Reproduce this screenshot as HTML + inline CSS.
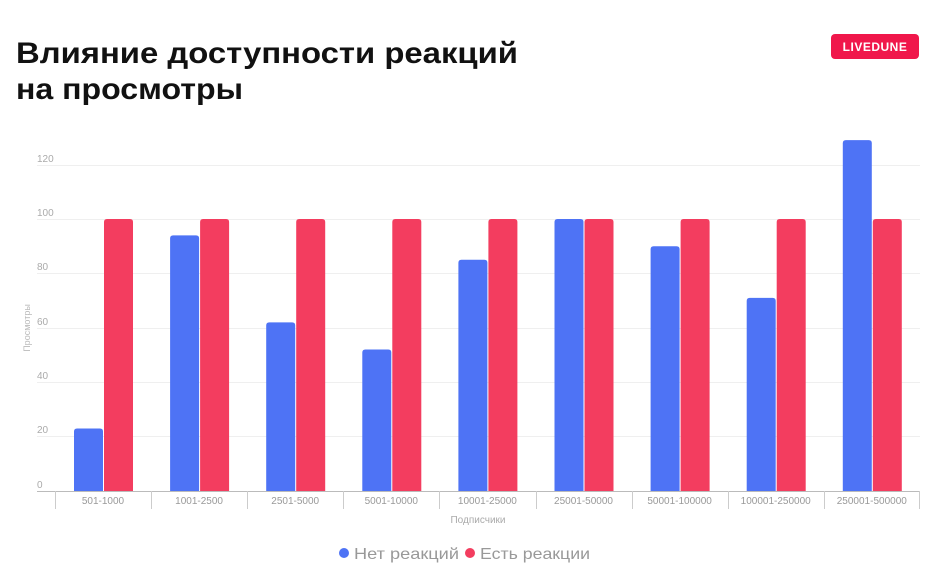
<!DOCTYPE html>
<html><head><meta charset="utf-8"><style>
body{margin:0;width:936px;height:572px;background:#fff;overflow:hidden;font-family:"Liberation Sans",sans-serif}
</style></head><body>
<svg width="936" height="572" xmlns="http://www.w3.org/2000/svg" font-family="Liberation Sans, sans-serif">
<text x="16" y="63" font-size="30" font-weight="bold" fill="#111" textLength="502" lengthAdjust="spacingAndGlyphs">Влияние доступности реакций</text>
<text x="16" y="99" font-size="30" font-weight="bold" fill="#111" textLength="227" lengthAdjust="spacingAndGlyphs">на просмотры</text>
<rect x="831" y="34" width="88" height="25" rx="4" fill="#f0174b"/>
<text x="875" y="51" font-size="12" font-weight="bold" fill="#fff" text-anchor="middle" letter-spacing="0.5">LIVEDUNE</text>
<g stroke="#efefef" stroke-width="1">
<line x1="37" x2="920" y1="165.5" y2="165.5"/><line x1="37" x2="920" y1="219.5" y2="219.5"/>
<line x1="37" x2="920" y1="273.5" y2="273.5"/><line x1="37" x2="920" y1="328.5" y2="328.5"/>
<line x1="37" x2="920" y1="382.5" y2="382.5"/><line x1="37" x2="920" y1="436.5" y2="436.5"/>
</g>
<g font-size="10" fill="#aaa">
<text x="37" y="162">120</text><text x="37" y="216">100</text><text x="37" y="270">80</text>
<text x="37" y="325">60</text><text x="37" y="379">40</text><text x="37" y="433">20</text><text x="37" y="488">0</text>
</g>
<text transform="translate(30,328) rotate(-90)" font-size="9" fill="#bbb" text-anchor="middle">Просмотры</text>
<g id="bars"></g>
<line x1="37" x2="920" y1="491.5" y2="491.5" stroke="#bbb"/>
<g id="ticks" stroke="#ccc"></g>
<g id="labels" font-size="10" fill="#999" text-anchor="middle"></g>
<text x="478" y="523" font-size="10" fill="#aaa" text-anchor="middle">Подписчики</text>
<circle cx="344" cy="553" r="5" fill="#4e73f5"/>
<text x="354" y="559" font-size="16" fill="#999" textLength="105" lengthAdjust="spacingAndGlyphs">Нет реакций</text>
<circle cx="470" cy="553" r="5" fill="#f33d5f"/>
<text x="480" y="559" font-size="16" fill="#999" textLength="110" lengthAdjust="spacingAndGlyphs">Есть реакции</text>
</svg>
<script>
var v=[23,94,62,52,85,100,90,71,129],l=["501-1000","1001-2500","2501-5000","5001-10000","10001-25000","25001-50000","50001-100000","100001-250000","250001-500000"];
var ns="http://www.w3.org/2000/svg",b=document.getElementById("bars"),t=document.getElementById("ticks"),lb=document.getElementById("labels");
function el(p,n,a){var e=document.createElementNS(ns,n);for(var k in a)e.setAttribute(k,a[k]);p.appendChild(e);return e;}
function bar(x,val,c){var h=val*2.72,y=491-h;el(b,"path",{d:"M"+x+" 491V"+(y+3)+"Q"+x+" "+y+" "+(x+3)+" "+y+"H"+(x+26)+"Q"+(x+29)+" "+y+" "+(x+29)+" "+(y+3)+"V491Z",fill:c});}
for(var i=0;i<9;i++){var x0=55+i*96.1;bar(x0+19,v[i],"#4e73f5");bar(x0+49,100,"#f33d5f");
el(t,"line",{x1:Math.round(x0)+0.5,x2:Math.round(x0)+0.5,y1:491,y2:509});
var tx=el(lb,"text",{x:x0+48,y:504});tx.textContent=l[i];}
el(t,"line",{x1:919.5,x2:919.5,y1:491,y2:509});
</script>
</body></html>
